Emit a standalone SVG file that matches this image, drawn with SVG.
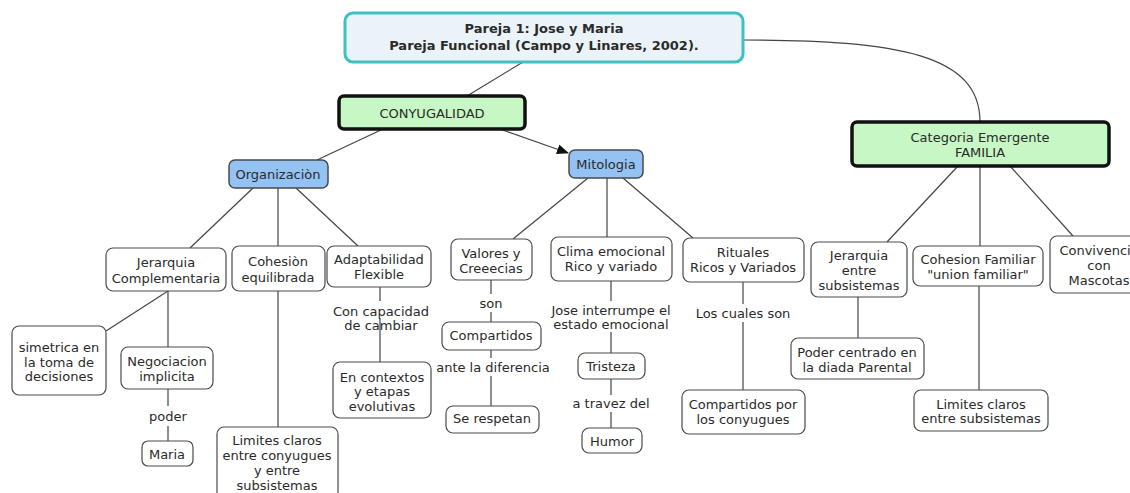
<svg xmlns="http://www.w3.org/2000/svg" width="1130" height="493" viewBox="0 0 1130 493">
<style>
text{font-family:"DejaVu Sans",Verdana,sans-serif;font-size:13px;fill:#2a2a2a;text-anchor:middle;dominant-baseline:central}
.b{font-weight:bold;font-size:13px}
.n{fill:#fff;stroke:#4a4a4a;stroke-width:1.2}
.blue{fill:#93c2f3;stroke:#4a4a4a;stroke-width:1.5}
.green{fill:#c6f7c4;stroke:#111;stroke-width:3.5}
.root{fill:#eaf4f8;stroke:#3fbfc6;stroke-width:3}
.c{fill:none;stroke:#444;stroke-width:1.2}
</style>
<defs>
<marker id="arr" markerWidth="12" markerHeight="10" refX="11" refY="5" orient="auto" markerUnits="userSpaceOnUse">
<path d="M0,0 L12,5 L0,10 Z" fill="#111"/>
</marker>
</defs>
<rect width="1130" height="493" fill="#fff"/>
<g id="connectors">
<path class="c" d="M523,62 L467,96"/>
<path class="c" d="M743,40 C 900,40 980,55 980,122"/>
<path class="c" d="M383,129 L317,160"/>
<path class="c" d="M500,129 L568,153" marker-end="url(#arr)"/>
<path class="c" d="M253,188 L190,248"/>
<path class="c" d="M278,188 L278,246"/>
<path class="c" d="M296,188 L358,246"/>
<path class="c" d="M168,291 L106,331"/>
<path class="c" d="M168,291 L168,347"/>
<path class="c" d="M168,389 L168,406 M168,426 L168,441"/>
<path class="c" d="M278,291 L278,427"/>
<path class="c" d="M380,287 L380,301 M380,318 L380,362"/>
<path class="c" d="M588,178 L513,239"/>
<path class="c" d="M607,178 L607,237"/>
<path class="c" d="M623,178 L693,238"/>
<path class="c" d="M491,280 L491,294 M491,312 L491,322"/>
<path class="c" d="M491,350 L491,358 M491,376 L491,406"/>
<path class="c" d="M611,281 L611,301 M611,332 L611,353"/>
<path class="c" d="M611,379 L611,395 M611,412 L611,428"/>
<path class="c" d="M743,282 L743,304 M743,322 L743,390"/>
<path class="c" d="M958,166 L887,242"/>
<path class="c" d="M980,166 L980,246"/>
<path class="c" d="M1010,166 L1073,236"/>
<path class="c" d="M858,297 L858,338"/>
<path class="c" d="M979,286 L979,390"/>
</g>
<g id="root"><rect class="root" x="345" y="13" width="398" height="49" rx="8"/><text class="b" x="544" y="28">Pareja 1: Jose y Maria</text><text class="b" x="544" y="45">Pareja Funcional (Campo y Linares, 2002).</text></g>
<g id="conyugalidad"><rect class="green" x="339" y="96" width="186" height="33" rx="5"/><text x="432" y="113">CONYUGALIDAD</text></g>
<g id="organizacion"><rect class="blue" x="229" y="160" width="99" height="28" rx="6"/><text x="278" y="174">Organizaciòn</text></g>
<g id="mitologia"><rect class="blue" x="569" y="150" width="74" height="28" rx="6"/><text x="606" y="164">Mitologia</text></g>
<g id="familia"><rect class="green" x="852" y="122" width="257" height="44" rx="5"/><text x="980" y="137">Categoria Emergente</text><text x="980" y="152">FAMILIA</text></g>
<g id="jerarquia"><rect class="n" x="106" y="248" width="120" height="43" rx="7"/><text x="166" y="262">Jerarquia</text><text x="166" y="278">Complementaria</text></g>
<g id="cohesion"><rect class="n" x="232" y="246" width="93" height="45" rx="7"/><text x="278" y="261">Cohesiòn</text><text x="278" y="277">equilibrada</text></g>
<g id="adaptabilidad"><rect class="n" x="327" y="246" width="104" height="41" rx="7"/><text x="379" y="259">Adaptabilidad</text><text x="379" y="274">Flexible</text></g>
<g id="simetrica"><rect class="n" x="12" y="326" width="94" height="69" rx="7"/><text x="59" y="347">simetrica en</text><text x="59" y="362">la toma de</text><text x="59" y="376">decisiones</text></g>
<g id="negociacion"><rect class="n" x="121" y="347" width="92" height="42" rx="7"/><text x="167" y="361">Negociacion</text><text x="167" y="376">implicita</text></g>
<g id="lbl-poder"><text x="168" y="416">poder</text></g>
<g id="maria"><rect class="n" x="142" y="441" width="51" height="25" rx="6"/><text x="167" y="454">Maria</text></g>
<g id="limites-conyugues"><rect class="n" x="217" y="427" width="121" height="72" rx="7"/><text x="277" y="440">Limites claros</text><text x="277" y="455">entre conyugues</text><text x="277" y="470">y entre</text><text x="277" y="485">subsistemas</text></g>
<g id="lbl-capacidad"><text x="381" y="311">Con capacidad</text><text x="381" y="325">de cambiar</text></g>
<g id="contextos"><rect class="n" x="333" y="362" width="98" height="56" rx="7"/><text x="382" y="377">En contextos</text><text x="382" y="391">y etapas</text><text x="382" y="406">evolutivas</text></g>
<g id="valores"><rect class="n" x="451" y="239" width="81" height="41" rx="7"/><text x="491" y="253">Valores y</text><text x="491" y="268">Creeecias</text></g>
<g id="clima"><rect class="n" x="551" y="237" width="121" height="44" rx="7"/><text x="611" y="251">Clima emocional</text><text x="611" y="266">Rico y variado</text></g>
<g id="rituales"><rect class="n" x="683" y="238" width="121" height="44" rx="7"/><text x="743" y="252">Rituales</text><text x="743" y="267">Ricos y Variados</text></g>
<g id="lbl-son"><text x="491" y="303">son</text></g>
<g id="compartidos"><rect class="n" x="442" y="322" width="99" height="28" rx="7"/><text x="491" y="335">Compartidos</text></g>
<g id="lbl-diferencia"><text x="493" y="367">ante la diferencia</text></g>
<g id="respetan"><rect class="n" x="446" y="406" width="93" height="27" rx="7"/><text x="492" y="418">Se respetan</text></g>
<g id="lbl-jose"><text x="611" y="310">Jose interrumpe el</text><text x="611" y="324">estado emocional</text></g>
<g id="tristeza"><rect class="n" x="578" y="353" width="67" height="26" rx="7"/><text x="611" y="366">Tristeza</text></g>
<g id="lbl-travez"><text x="611" y="403">a travez del</text></g>
<g id="humor"><rect class="n" x="582" y="428" width="60" height="25" rx="7"/><text x="612" y="441">Humor</text></g>
<g id="lbl-cuales"><text x="743" y="313">Los cuales son</text></g>
<g id="compartidos-conyugues"><rect class="n" x="682" y="390" width="123" height="44" rx="7"/><text x="743" y="404">Compartidos por</text><text x="743" y="419">los conyugues</text></g>
<g id="jerarquia-subsistemas"><rect class="n" x="811" y="242" width="96" height="55" rx="7"/><text x="859" y="255">Jerarquia</text><text x="859" y="270">entre</text><text x="859" y="285">subsistemas</text></g>
<g id="cohesion-familiar"><rect class="n" x="913" y="246" width="130" height="40" rx="7"/><text x="978" y="259">Cohesion Familiar</text><text x="978" y="274">"union familiar"</text></g>
<g id="convivencia"><rect class="n" x="1050" y="236" width="100" height="57" rx="7"/><text x="1099" y="250">Convivencia</text><text x="1099" y="265">con</text><text x="1099" y="280">Mascotas</text></g>
<g id="poder-centrado"><rect class="n" x="791" y="338" width="133" height="41" rx="7"/><text x="857" y="352">Poder centrado en</text><text x="857" y="367">la diada Parental</text></g>
<g id="limites-subsistemas"><rect class="n" x="914" y="390" width="134" height="41" rx="7"/><text x="981" y="404">Limites claros</text><text x="981" y="418">entre subsistemas</text></g>
</svg>
